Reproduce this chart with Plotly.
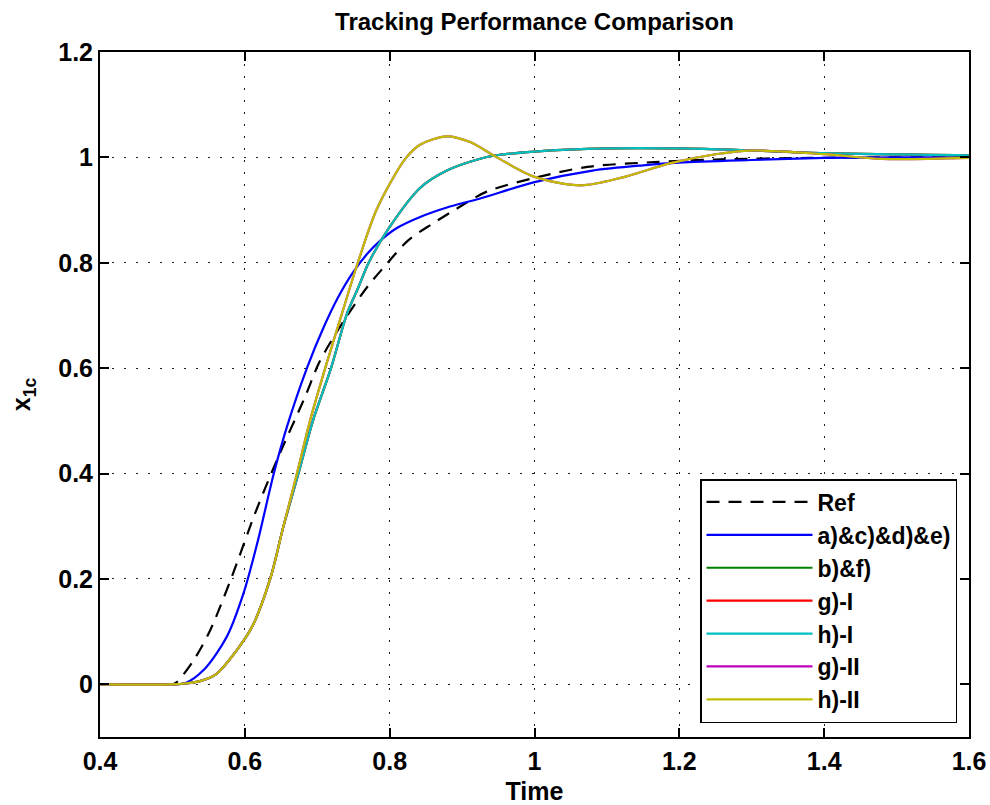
import plotly.graph_objects as go

# ---- data ----
t_ref = [0.40, 0.49, 0.50, 0.506, 0.529, 0.552, 0.582, 0.614, 0.646, 0.683, 0.702, 0.720, 0.743,
         0.769, 0.796, 0.826, 0.859, 0.893, 0.934, 1.0, 1.073, 1.165, 1.25, 1.38, 1.50, 1.60]
y_ref = [0, 0, 0, 0.004, 0.045, 0.102, 0.204, 0.324, 0.431, 0.545, 0.609, 0.653, 0.703,
         0.754, 0.798, 0.843, 0.874, 0.903, 0.935, 0.961, 0.982, 0.991, 0.996, 0.999, 1.0, 1.0]

t_a = [0.40, 0.50, 0.5175, 0.543, 0.575, 0.598, 0.617, 0.640, 0.658, 0.686, 0.709, 0.729,
       0.748, 0.769, 0.787, 0.810, 0.842, 0.879, 0.925, 1.0, 1.08, 1.15, 1.2, 1.3, 1.4, 1.5, 1.6]
y_a = [0, 0, 0.002, 0.027, 0.09, 0.172, 0.267, 0.4, 0.488, 0.601, 0.678, 0.735,
       0.779, 0.817, 0.842, 0.866, 0.887, 0.905, 0.922, 0.953, 0.975, 0.985, 0.990, 0.995,
       0.999, 1.0, 1.0]

# b)&f), g)-I, h)-I  (overlapping curves)
t_I = [0.40, 0.50, 0.52, 0.538, 0.561, 0.589, 0.610, 0.635, 0.653, 0.674, 0.694, 0.719, 0.741,
       0.757, 0.771, 0.800, 0.842, 0.879, 0.925, 0.948, 1.0, 1.1, 1.2, 1.3, 1.4, 1.6]
y_I = [0, 0, 0.002, 0.006, 0.02, 0.065, 0.109, 0.2, 0.298, 0.4, 0.5, 0.6, 0.703,
       0.754, 0.8, 0.868, 0.942, 0.975, 0.9975, 1.004, 1.011, 1.017, 1.017, 1.013, 1.008, 1.004]

# g)-II, h)-II  (overlapping curves)
t_II = [0.40, 0.50, 0.52, 0.538, 0.561, 0.589, 0.610, 0.635, 0.653, 0.672, 0.690, 0.711, 0.734,
        0.756, 0.7825, 0.822, 0.842, 0.879, 0.911, 0.948, 1.0, 1.064, 1.119, 1.188, 1.25, 1.3,
        1.4, 1.48, 1.6]
y_II = [0, 0, 0.002, 0.006, 0.02, 0.065, 0.109, 0.2, 0.298, 0.4, 0.5, 0.6, 0.703,
        0.8, 0.9025, 0.998, 1.024, 1.040, 1.029, 1.0, 0.963, 0.947, 0.961, 0.989, 1.006, 1.013,
        1.006, 0.997, 0.999]

series_names = ["Ref", "a)&c)&d)&e)", "b)&f)", "g)-I", "h)-I", "g)-II", "h)-II"]
series_colors = ["#000000", "#0000FF", "#008000", "#FF0000", "#00BFBF", "#BF00BF", "#BFBF00"]
series_data = [(t_ref, y_ref), (t_a, y_a), (t_I, y_I), (t_I, y_I), (t_I, y_I),
               (t_II, y_II), (t_II, y_II)]

x_ticks = [0.4, 0.6, 0.8, 1.0, 1.2, 1.4, 1.6]
x_ticklabels = ["0.4", "0.6", "0.8", "1", "1.2", "1.4", "1.6"]
y_ticks = [0, 0.2, 0.4, 0.6, 0.8, 1.0, 1.2]
y_ticklabels = ["0", "0.2", "0.4", "0.6", "0.8", "1", "1.2"]

FONT = "Liberation Sans, Arial, Helvetica, sans-serif"

fig = go.Figure()
for name, color, (tx, ty) in zip(series_names, series_colors, series_data):
    fig.add_trace(go.Scatter(
        x=tx, y=ty, name=name, mode="lines",
        line=dict(color=color, width=2.2, shape="spline", smoothing=0.85,
                  dash="13px,9px" if name == "Ref" else "solid"),
    ))

tickfont = dict(family=FONT, size=25, color="black", weight="bold")
axis_common = dict(
    showline=True, linecolor="black", linewidth=2, mirror="allticks",
    ticks="inside", ticklen=9, tickwidth=1.5, tickcolor="black",
    showgrid=True, gridcolor="#222222", gridwidth=1, griddash="1.5px,10.5px",
    zeroline=False, tickfont=tickfont, automargin=False,
)

fig.update_layout(
    width=990, height=805,
    margin=dict(l=100, r=21, t=52, b=68),
    paper_bgcolor="white", plot_bgcolor="white",
    font=dict(family=FONT, size=25, color="black"),
    title=dict(text="Tracking Performance Comparison", x=(100 + 969) / 2 / 990,
               xanchor="center", y=1 - 22 / 805, yanchor="middle",
               font=dict(family=FONT, size=24, color="black", weight="bold")),
    xaxis=dict(range=[0.4, 1.6], tickvals=x_ticks, ticktext=x_ticklabels,
               ticklabelstandoff=1,
               title=dict(text="Time", font=dict(family=FONT, size=25, weight="bold"),
                          standoff=12),
               **axis_common),
    yaxis=dict(range=[-0.1, 1.2], tickvals=y_ticks, ticktext=y_ticklabels,
               title=dict(text="x<sub>1c</sub>", font=dict(family=FONT, size=25, weight="bold"),
                          standoff=20),
               **axis_common),
    legend=dict(x=(957 - 100) / 869, y=(737 - 723) / 685, xanchor="right", yanchor="bottom",
                bgcolor="white", bordercolor="black", borderwidth=1.5,
                font=dict(family=FONT, size=23, color="black", weight="bold"), itemwidth=106,
                tracegroupgap=0),
    showlegend=True,
)

fig.write_html("out.html")
